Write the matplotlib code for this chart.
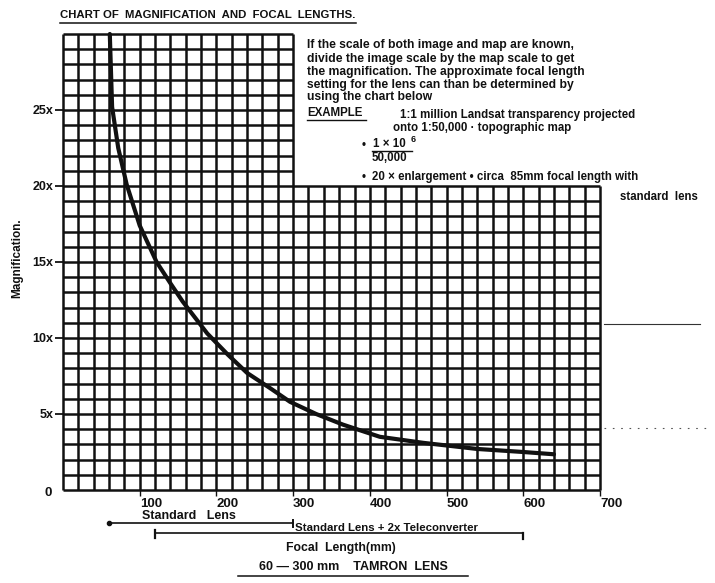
import matplotlib
matplotlib.use("Agg")
import matplotlib.pyplot as plt
import numpy as np

# ---- data -------------------------------------------------------------
# focal length (mm) vs magnification
focal_mm = [61, 64, 72, 83, 100, 122, 140, 156, 188, 215, 240, 270, 296, 330, 365, 413, 470, 540, 600, 640]
magnification = [30, 25.2, 22.5, 20.1, 17.4, 15.0, 13.6, 12.4, 10.3, 8.9, 7.7, 6.7, 5.8, 5.0, 4.3, 3.5, 3.1, 2.7, 2.5, 2.35]

y_ticks = [5, 10, 15, 20, 25]
y_tick_labels = ["5x", "10x", "15x", "20x", "25x"]
x_ticks = [100, 200, 300, 400, 500, 600, 700]
x_tick_labels = ["100", "200", "300", "400", "500", "600", "700"]

standard_lens = (60, 300)        # mm
teleconverter_lens = (120, 600)  # mm, standard lens + 2x teleconverter

# grid: tall block up to 30x for 0-300 mm, lower block up to 20x for 0-700 mm
grid_step_x = 20
grid_step_y = 1
tall_block = (300, 30)
wide_block = (700, 20)

notes = [
    "If the scale of both image and map are known,",
    "divide the image scale by the map scale to get",
    "the magnification. The approximate focal length",
    "setting for the lens can than be determined by",
    "using the chart below",
]
note_rows = [45, 59, 72, 85, 97]

W, H = 715, 583
fig = plt.figure(figsize=(W / 100, H / 100), dpi=100)
fig.patch.set_facecolor("white")

def fx(x):
    return x / W

def fy(y):
    return 1 - y / H

NARROW = ["Liberation Sans Narrow", "Liberation Sans", "DejaVu Sans"]
WIDE = ["Liberation Sans", "DejaVu Sans"]
INK = "#111111"

ax = fig.add_axes([fx(63), fy(490), fx(600) - fx(63), fy(34) - fy(490)])
ax.set_xlim(0, wide_block[0])
ax.set_ylim(0, tall_block[1])
for s in ax.spines.values():
    s.set_visible(False)
ax.patch.set_alpha(0)

lw_grid = 1.8
# vertical grid lines
xs = np.arange(0, wide_block[0] + 1, grid_step_x)
ax.vlines(xs[xs <= tall_block[0]], 0, tall_block[1], color=INK, lw=lw_grid, clip_on=False)
ax.vlines(xs[xs > tall_block[0]], 0, wide_block[1], color=INK, lw=lw_grid, clip_on=False)
# horizontal grid lines
ys = np.arange(0, tall_block[1] + 1, grid_step_y)
ax.hlines(ys[ys <= wide_block[1]], 0, wide_block[0], color=INK, lw=lw_grid, clip_on=False)
ax.hlines(ys[ys > wide_block[1]], 0, tall_block[0], color=INK, lw=lw_grid, clip_on=False)

# magnification curve
ax.plot(focal_mm, magnification, color=INK, lw=3.0, solid_capstyle="round", clip_on=False)

# stray rule lines at the right edge
ax.plot([705, 830], [10.9, 10.9], color="#333333", lw=0.8, clip_on=False)
ax.plot([705, 840], [4.1, 4.1], color="#555555", lw=0.8, ls=(0, (1.5, 6)), clip_on=False)

# ticks
ax.set_yticks(y_ticks)
ax.set_yticklabels(y_tick_labels, fontfamily=NARROW, fontweight="bold", fontsize=9)
ax.set_xticks(x_ticks)
ax.set_xticklabels(x_tick_labels, fontfamily=NARROW, fontweight="bold", fontsize=9.5)
ax.tick_params(axis="y", direction="out", length=6, width=1.3, pad=1, color=INK, labelcolor=INK)
ax.tick_params(axis="x", direction="out", length=4, width=1.0, pad=2, color=INK, labelcolor=INK)
for lab in ax.get_xticklabels():
    lab.set_horizontalalignment("left")
ax.text(-14, -0.2, "0", ha="right", va="center", fontsize=9.5, fontweight="bold",
        fontfamily=NARROW, color=INK)

# axis label
fig.text(fx(17), fy(258), "Magnification.", rotation=90, ha="center", va="center",
         fontsize=8.5, fontweight="bold", fontfamily=NARROW, color=INK)

# title
fig.text(fx(60), fy(15), "CHART OF  MAGNIFICATION  AND  FOCAL  LENGTHS.", ha="left", va="center",
         fontsize=8.2, fontweight="bold", fontfamily=NARROW, color=INK)
fig.add_artist(plt.Line2D([fx(60), fx(356)], [fy(23), fy(23)], color=INK, lw=1.1))

# explanatory notes
for line, row in zip(notes, note_rows):
    fig.text(fx(307), fy(row), line, ha="left", va="center", fontsize=8.7,
             fontweight="bold", fontfamily=NARROW, color=INK)
tkw = dict(ha="left", va="center", fontsize=8.3, fontweight="bold", fontfamily=WIDE, color=INK)
fig.text(fx(307), fy(113), "EXAMPLE", **tkw)
fig.add_artist(plt.Line2D([fx(307), fx(366)], [fy(120), fy(120)], color=INK, lw=1.0))
fig.text(fx(400), fy(115), "1:1 million Landsat transparency projected", **tkw)
fig.text(fx(393), fy(128), "onto 1:50,000 \u00b7 topographic map", **tkw)
fig.text(fx(362), fy(145), "\u2022", **tkw)
fig.text(fx(373), fy(144), "1 \u00d7 10", **tkw)
fig.text(fx(411), fy(139), "6", ha="left", va="center", fontsize=6.5, fontweight="bold",
         fontfamily=WIDE, color=INK)
fig.add_artist(plt.Line2D([fx(372), fx(412)], [fy(151), fy(151)], color=INK, lw=1.0))
fig.text(fx(372), fy(158), "50,000", **tkw)
fig.text(fx(362), fy(177), "\u2022", **tkw)
fig.text(fx(372), fy(177), "20 \u00d7 enlargement \u2022 circa  85mm focal length with", **tkw)
fig.text(fx(620), fy(197), "standard  lens", **tkw)

# lens range bars below the axis
bar_y1, bar_y2 = -2.2, -2.85
ax.plot(standard_lens, [bar_y1, bar_y1], color=INK, lw=1.2, clip_on=False)
ax.plot(standard_lens[0], bar_y1, marker="o", ms=3, color=INK, clip_on=False)
ax.plot([standard_lens[1]] * 2, [bar_y1 - 0.25, bar_y1 + 0.25], color=INK, lw=1.4, clip_on=False)
ax.text(np.mean(standard_lens) - 16, bar_y1 + 0.12, "Standard   Lens", ha="center", va="bottom",
        fontsize=9, fontweight="bold", fontfamily=WIDE, color=INK, clip_on=False)

ax.plot(teleconverter_lens, [bar_y2, bar_y2], color=INK, lw=1.2, clip_on=False)
ax.plot([teleconverter_lens[0]] * 2, [bar_y2 - 0.3, bar_y2 + 0.2], color=INK, lw=1.6, clip_on=False)
ax.plot([teleconverter_lens[1]] * 2, [bar_y2 - 0.4, bar_y2 + 0.05], color=INK, lw=1.6, clip_on=False)
ax.text(standard_lens[1] + 3, bar_y2 + 0.05, "Standard Lens + 2x Teleconverter", ha="left",
        va="bottom", fontsize=8.2, fontweight="bold", fontfamily=WIDE, color=INK, clip_on=False)

fig.text(fx(341), fy(548), "Focal  Length(mm)", ha="center", va="center", fontsize=8.8,
         fontweight="bold", fontfamily=WIDE, color=INK)
fig.text(fx(353), fy(567), "60 \u2014 300 mm    TAMRON  LENS", ha="center", va="center",
         fontsize=9, fontweight="bold", fontfamily=WIDE, color=INK)
fig.add_artist(plt.Line2D([fx(238), fx(468)], [fy(576), fy(576)], color=INK, lw=1.1))

fig.savefig("out.png", dpi=100, facecolor="white")
